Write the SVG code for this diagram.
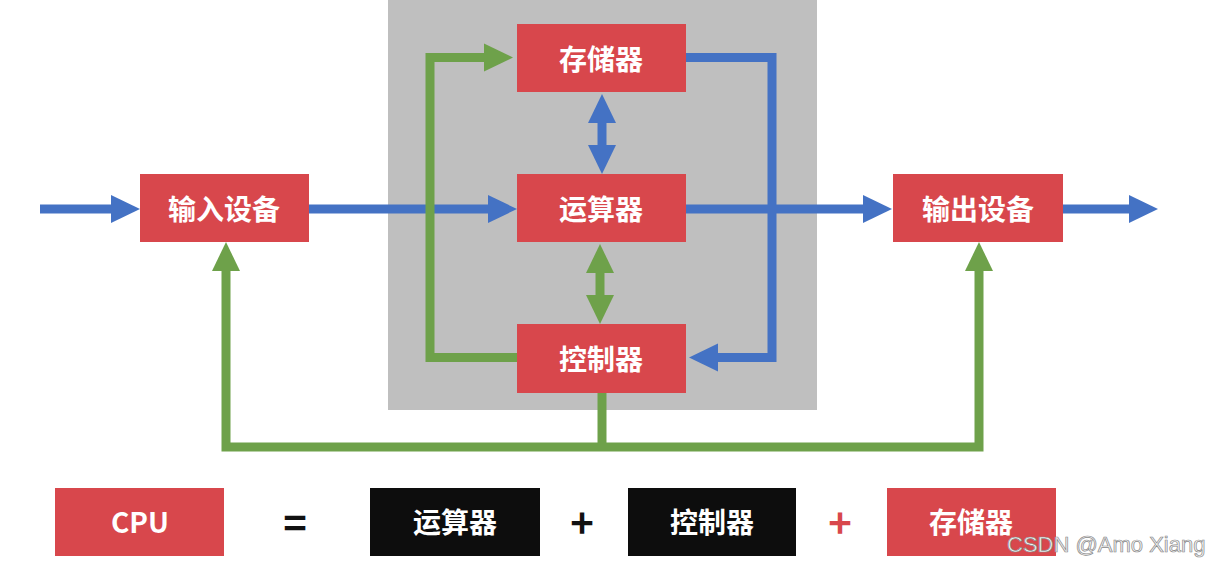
<svg xmlns="http://www.w3.org/2000/svg" width="1209" height="564" viewBox="0 0 1209 564">
<defs>
<style>
.bg{fill:#ffffff}
.cpu{fill:#bfbfbf}
.rb{fill:#d8474c}
.kb{fill:#0d0d0d}
.t{fill:#ffffff;font-family:"Noto Sans CJK SC","Noto Sans",sans-serif;font-weight:700;font-size:28px;text-anchor:middle;dominant-baseline:central}
.op{font-family:"Noto Sans CJK SC","Noto Sans",sans-serif;font-weight:700;font-size:40px;text-anchor:middle;dominant-baseline:central}
.b{fill:none;stroke:#4472c4;stroke-width:9;stroke-linejoin:miter}
.g{fill:none;stroke:#6ea14a;stroke-width:9;stroke-linejoin:miter}
.wm{font-family:"Liberation Sans",Arial,sans-serif;font-size:22px;fill:#f4f4f4;stroke:#8a8a8a;stroke-width:0.7}
</style>
<marker id="ab" markerUnits="userSpaceOnUse" markerWidth="30" markerHeight="30" refX="0" refY="14" orient="auto-start-reverse" viewBox="0 0 30 28">
<path d="M0,0 L29,14 L0,28 Z" fill="#4472c4"/>
</marker>
<marker id="ag" markerUnits="userSpaceOnUse" markerWidth="30" markerHeight="30" refX="0" refY="14" orient="auto-start-reverse" viewBox="0 0 30 28">
<path d="M0,0 L29,14 L0,28 Z" fill="#6ea14a"/>
</marker>
</defs>
<rect class="bg" x="0" y="0" width="1209" height="564"/>
<rect id="cpu-area" class="cpu" x="388" y="0" width="429" height="410"/>
<g id="connectors">
<path class="b" d="M40 209 H111" marker-end="url(#ab)"/>
<path class="b" d="M309 209 H488" marker-end="url(#ab)"/>
<path class="b" d="M686 209 H863" marker-end="url(#ab)"/>
<path class="b" d="M1063 209 H1129" marker-end="url(#ab)"/>
<path class="b" d="M686 57.5 H772 V357.5 H718" marker-end="url(#ab)"/>
<path class="b" d="M602 123 V145" marker-start="url(#ab)" marker-end="url(#ab)"/>
<path class="g" d="M600 273 V295" marker-start="url(#ag)" marker-end="url(#ag)"/>
<path class="g" d="M517 357.5 H430 V57.5 H484" marker-end="url(#ag)"/>
<path class="g" d="M602 393 V451"/>
<path class="g" d="M226 271 V447 H979 V271" marker-start="url(#ag)" marker-end="url(#ag)"/>
</g>
<g id="mem"><rect class="rb" x="517" y="24" width="169" height="68"/><text class="t" x="601" y="58">存储器</text></g>
<g id="alu"><rect class="rb" x="517" y="174" width="169" height="68"/><text class="t" x="601" y="208">运算器</text></g>
<g id="ctrl"><rect class="rb" x="517" y="324" width="169" height="69"/><text class="t" x="601" y="358">控制器</text></g>
<g id="input"><rect class="rb" x="140" y="174" width="169" height="68"/><text class="t" x="224" y="208">输入设备</text></g>
<g id="output"><rect class="rb" x="893" y="174" width="170" height="68"/><text class="t" x="978" y="208">输出设备</text></g>
<g id="eq-cpu"><rect class="rb" x="55" y="488" width="169" height="68"/><text class="t" x="140" y="521">CPU</text></g>
<text class="op" x="295" y="521" fill="#111">=</text>
<g id="eq-alu"><rect class="kb" x="370" y="488" width="170" height="68"/><text class="t" x="455" y="521">运算器</text></g>
<text class="op" x="582" y="521" fill="#111">+</text>
<g id="eq-ctrl"><rect class="kb" x="628" y="488" width="168" height="68"/><text class="t" x="712" y="521">控制器</text></g>
<text class="op" x="840" y="521" fill="#d8474c">+</text>
<g id="eq-mem"><rect class="rb" x="887" y="488" width="169" height="68"/><text class="t" x="971" y="521">存储器</text></g>
<text class="wm" x="1007" y="552">CSDN @Amo Xiang</text>
</svg>
